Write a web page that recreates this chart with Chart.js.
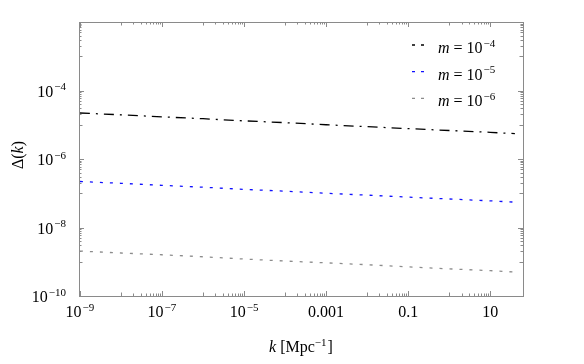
<!DOCTYPE html>
<html>
<head>
<meta charset="utf-8">
<script src="https://cdn.jsdelivr.net/npm/chart.js@4/dist/chart.umd.min.js"></script>
<style>
  body { margin: 0; background: #fff; }
  canvas { display: block; }
</style>
</head>
<body>
<canvas id="chart" width="584" height="364"></canvas>
<script>
// k values [Mpc^-1] and Delta(k)
const kValues = [1e-9, 1e-8, 1e-7, 1e-6, 1e-5, 1e-4, 1e-3, 1e-2, 0.1, 1, 10, 40];
const deltaM4 = [2.2e-5, 1.95e-5, 1.7e-5, 1.5e-5, 1.3e-5, 1.15e-5, 1.0e-5, 8.8e-6, 7.7e-6, 6.8e-6, 6.0e-6, 5.5e-6];
const deltaM5 = [2.2e-7, 1.95e-7, 1.7e-7, 1.5e-7, 1.3e-7, 1.15e-7, 1.0e-7, 8.8e-8, 7.7e-8, 6.8e-8, 6.0e-8, 5.5e-8];
const deltaM6 = [2.05e-9, 1.8e-9, 1.6e-9, 1.4e-9, 1.2e-9, 1.05e-9, 9.3e-10, 8.2e-10, 7.1e-10, 6.2e-10, 5.5e-10, 5.0e-10];
const massExps = ['\u22124', '\u22125', '\u22126'];

// tick labels: [base, exponent]
const xTickValues = [1e-9, 1e-7, 1e-5, 1e-3, 0.1, 10];
const xTickLabels = [['10', '\u22129'], ['10', '\u22127'], ['10', '\u22125'], ['0.001', ''], ['0.1', ''], ['10', '']];
const yTickValues = [1e-10, 1e-8, 1e-6, 1e-4];
const yTickLabels = [['10', '\u221210'], ['10', '\u22128'], ['10', '\u22126'], ['10', '\u22124']];

const FONT = '"Liberation Serif", "Times New Roman", serif';
const frameColor = '#8a8a8a';

const pts = (ys) => kValues.map((k, i) => ({ x: k, y: ys[i] }));

function powText(ctx, base, exp, x, y, align, size) {
    ctx.font = size + 'px ' + FONT;
    const wb = ctx.measureText(base).width;
    ctx.font = Math.round(size * 0.7) + 'px ' + FONT;
    const we = exp ? ctx.measureText(exp).width + 1 : 0;
    let x0 = x;
    if (align === 'center') x0 = x - (wb + we) / 2;
    if (align === 'right') x0 = x - (wb + we);
    ctx.textAlign = 'left';
    ctx.textBaseline = 'alphabetic';
    ctx.font = size + 'px ' + FONT;
    ctx.fillText(base, x0, y);
    if (exp) {
        ctx.font = Math.round(size * 0.7) + 'px ' + FONT;
        ctx.fillText(exp, x0 + wb + 1, y - size * 0.4);
    }
}

const axesPlugin = {
    id: 'mmaAxes',
    afterDatasetsDraw(chart) {
        const { ctx, chartArea: a, scales } = chart;
        const sx = scales.x, sy = scales.y;
        ctx.save();
        // frame
        ctx.strokeStyle = frameColor;
        ctx.lineWidth = 1;
        ctx.strokeRect(Math.round(a.left) + 0.5, Math.round(a.top) + 0.5,
                       Math.round(a.right - a.left), Math.round(a.bottom - a.top));

        const tick = (p, len, horiz) => {
            ctx.beginPath();
            if (horiz) {
                const x = Math.round(p) + 0.5;
                ctx.moveTo(x, a.bottom); ctx.lineTo(x, a.bottom - len);
                ctx.moveTo(x, a.top); ctx.lineTo(x, a.top + len);
            } else {
                const y = Math.round(p) + 0.5;
                ctx.moveTo(a.left, y); ctx.lineTo(a.left + len, y);
                ctx.moveTo(a.right, y); ctx.lineTo(a.right - len, y);
            }
            ctx.stroke();
        };
        // x ticks: major every other decade, minor ticks in the decades between
        for (let e = -9; e <= 2; e++) {
            const odd = (e + 9) % 2 === 1;
            if (!odd) {
                const p = sx.getPixelForValue(Math.pow(10, e));
                if (p >= a.left - 0.5 && p <= a.right + 0.5) tick(p, 5, true);
            } else {
                for (let m = 1; m <= 9; m++) {
                    const p = sx.getPixelForValue(m * Math.pow(10, e));
                    if (p > a.right) break;
                    tick(p, m === 1 ? 3.5 : 2.5, true);
                }
            }
        }
        for (let e = -10; e <= -2; e++) {
            const odd = (e + 10) % 2 === 1;
            if (!odd) {
                tick(sy.getPixelForValue(Math.pow(10, e)), 5, false);
            } else {
                for (let m = 1; m <= 9; m++) {
                    tick(sy.getPixelForValue(m * Math.pow(10, e)), m === 1 ? 3.5 : 2.5, false);
                }
            }
        }

        // tick labels
        ctx.fillStyle = '#000';
        xTickValues.forEach((v, i) => {
            powText(ctx, xTickLabels[i][0], xTickLabels[i][1], sx.getPixelForValue(v), a.bottom + 21, 'center', 16);
        });
        yTickValues.forEach((v, i) => {
            powText(ctx, yTickLabels[i][0], yTickLabels[i][1], a.left - 13, sy.getPixelForValue(v) + 6, 'right', 16);
        });

        // axis titles
        ctx.font = 'italic 16px ' + FONT;
        const wk = ctx.measureText('k').width;
        ctx.font = '16px ' + FONT;
        const w1 = ctx.measureText(' [Mpc').width;
        ctx.font = '11px ' + FONT;
        const w2 = ctx.measureText('\u22121').width;
        ctx.font = '16px ' + FONT;
        const w3 = ctx.measureText(']').width;
        let tx = (a.left + a.right) / 2 - (wk + w1 + w2 + w3 + 1) / 2;
        const ty = 352;
        ctx.textAlign = 'left';
        ctx.font = 'italic 16px ' + FONT;
        ctx.fillText('k', tx, ty); tx += wk;
        ctx.font = '16px ' + FONT;
        ctx.fillText(' [Mpc', tx, ty); tx += w1;
        ctx.font = '11px ' + FONT;
        ctx.fillText('\u22121', tx, ty - 6); tx += w2 + 1;
        ctx.font = '16px ' + FONT;
        ctx.fillText(']', tx, ty);

        ctx.save();
        ctx.translate(23, 155);
        ctx.rotate(-Math.PI / 2);
        ctx.font = '16px ' + FONT;
        const wd = ctx.measureText('\u0394(').width;
        ctx.font = 'italic 16px ' + FONT;
        const wkk = ctx.measureText('k').width;
        ctx.font = '16px ' + FONT;
        const wp = ctx.measureText(')').width;
        let rx = -(wd + wkk + wp) / 2;
        ctx.fillText('\u0394(', rx, 0); rx += wd;
        ctx.font = 'italic 16px ' + FONT;
        ctx.fillText('k', rx, 0); rx += wkk;
        ctx.font = '16px ' + FONT;
        ctx.fillText(')', rx, 0);
        ctx.restore();

        // legend
        chart.data.datasets.forEach((ds, i) => {
            const rowY = 45 + i * 26.7;
            ctx.strokeStyle = ds.borderColor;
            ctx.lineWidth = 1.3;
            ctx.setLineDash([3, 6]);
            ctx.beginPath();
            ctx.moveTo(412, rowY); ctx.lineTo(426, rowY);
            ctx.stroke();
            ctx.setLineDash([]);
            ctx.fillStyle = '#000';
            ctx.font = 'italic 16px ' + FONT;
            ctx.textAlign = 'left';
            const bx = 438, by = rowY + 8;
            ctx.fillText('m', bx, by);
            const wm = ctx.measureText('m').width;
            powText(ctx, ' = 10', massExps[i], bx + wm, by, 'left', 16);
        });
        ctx.restore();
    }
};

new Chart(document.getElementById('chart'), {
    type: 'line',
    data: {
        datasets: [
            { label: 'm = 10^-4', data: pts(deltaM4), borderColor: '#000000', borderDash: [10, 6, 2, 6] },
            { label: 'm = 10^-5', data: pts(deltaM5), borderColor: '#1010ff', borderDash: [3, 7] },
            { label: 'm = 10^-6', data: pts(deltaM6), borderColor: '#8c8c8c', borderDash: [3, 7] }
        ]
    },
    options: {
        responsive: false,
        animation: false,
        events: [],
        layout: { padding: { left: 79, right: 61, top: 22, bottom: 68 } },
        elements: {
            point: { radius: 0 },
            line: { borderWidth: 1.3, tension: 0 }
        },
        plugins: { legend: { display: false }, tooltip: { enabled: false } },
        scales: {
            x: {
                type: 'logarithmic',
                min: 9.5e-10,
                max: 63,
                grid: { display: false, drawTicks: false },
                border: { display: false },
                ticks: { display: false }
            },
            y: {
                type: 'logarithmic',
                min: 1e-10,
                max: 1e-2,
                grid: { display: false, drawTicks: false },
                border: { display: false },
                ticks: { display: false }
            }
        }
    },
    plugins: [axesPlugin]
});
</script>
</body>
</html>
